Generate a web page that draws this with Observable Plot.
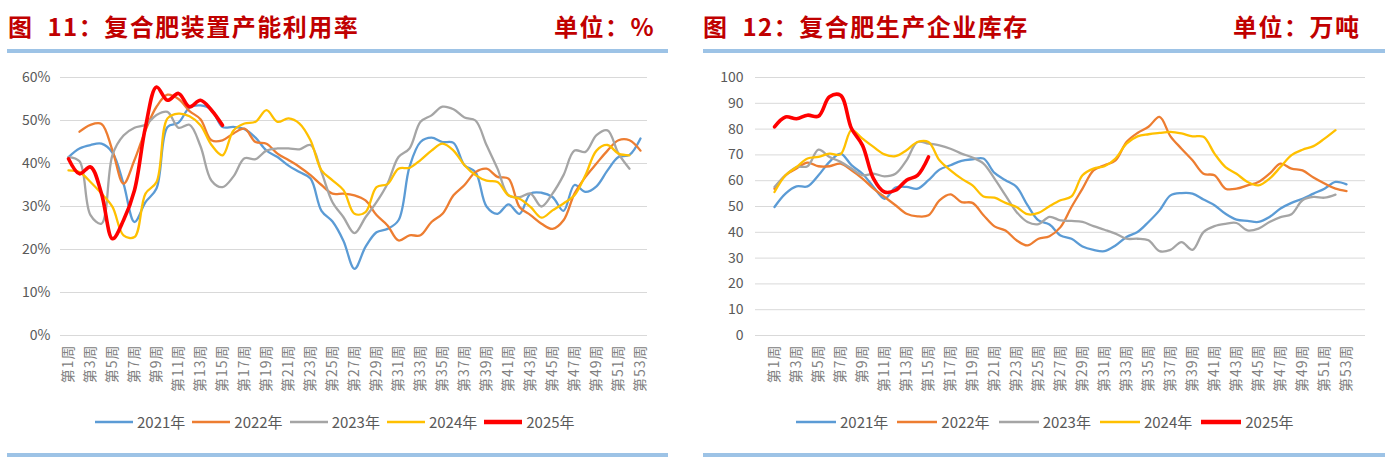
<!DOCTYPE html>
<html><head><meta charset="utf-8">
<script src="https://cdn.jsdelivr.net/npm/d3@7"></script>
<script src="https://cdn.jsdelivr.net/npm/@observablehq/plot@0.6"></script>
<style>
body{margin:0;width:1393px;height:465px;background:#fff;font-family:"Noto Sans CJK SC",sans-serif;overflow:hidden;position:relative}
.title{position:absolute;top:8px;font-size:24px;font-weight:bold;color:#C00000;white-space:nowrap;letter-spacing:1.5px}
.bar{position:absolute;height:4px;background:#9DC3E6}
.chart{position:absolute;top:60px}
.legend{position:absolute;top:411px;display:flex;align-items:center;font-size:15px;color:#595959;white-space:nowrap}
.legend span.item{display:flex;align-items:center}
.legend svg{margin-right:4px}
</style></head>
<body>
<div class="title" style="left:8px">图&nbsp;&nbsp;11：复合肥装置产能利用率</div>
<div class="title" style="left:554px">单位：%</div>
<div class="bar" style="left:7px;width:661px;top:49px"></div>
<div class="title" style="left:703px">图&nbsp;&nbsp;12：复合肥生产企业库存</div>
<div class="title" style="left:1233px">单位：万吨</div>
<div class="bar" style="left:703px;width:682px;top:49px"></div>
<div id="c1" class="chart" style="left:0px"></div>
<div id="c2" class="chart" style="left:700px"></div>
<div id="lg1" class="legend" style="left:95px"></div>
<div id="lg2" class="legend" style="left:796px"></div>
<div class="bar" style="left:7px;width:661px;top:453px"></div>
<div class="bar" style="left:703px;width:682px;top:453px"></div>
<script>
const weeks = ["第1周","第2周","第3周","第4周","第5周","第6周","第7周","第8周","第9周","第10周","第11周","第12周","第13周","第14周","第15周","第16周","第17周","第18周","第19周","第20周","第21周","第22周","第23周","第24周","第25周","第26周","第27周","第28周","第29周","第30周","第31周","第32周","第33周","第34周","第35周","第36周","第37周","第38周","第39周","第40周","第41周","第42周","第43周","第44周","第45周","第46周","第47周","第48周","第49周","第50周","第51周","第52周","第53周"];
const weekTicks = ["第1周","第3周","第5周","第7周","第9周","第11周","第13周","第15周","第17周","第19周","第21周","第23周","第25周","第27周","第29周","第31周","第33周","第35周","第37周","第39周","第41周","第43周","第45周","第47周","第49周","第51周","第53周"];
const years = ["2021年","2022年","2023年","2024年","2025年"];
const colors = ["#5B9BD5","#ED7D31","#A5A5A5","#FFC000","#FF0000"];

// 图11 复合肥装置产能利用率 (%)
const util2021 = [41.5,43.5,44.3,44.6,42.5,35.3,26.4,31,34.2,48.5,49.5,53,53.5,52.5,48.5,48.5,48,46,43,41.5,39.5,38,36.5,29,26.5,22,15.5,20.6,24,24.8,26.8,39.2,45,46,45,44.8,39.6,38,30,28.3,30.5,28.3,33,33.2,32.2,29,35,33.4,34.7,38.4,41.5,42,45.8];
const util2022 = [null,47.4,49,49.2,43,35.3,40.8,47.7,53.2,56,55,52.2,50.3,45.4,45.4,47,48.1,45,44.6,42.3,40.8,39.2,37.3,35,33,33,32.6,31.4,28,25.6,22.1,23.3,23.3,26.4,28.3,32.6,35,38,38.8,36.9,36.5,29.9,28,26,24.8,26.8,33,36.9,40,43,45.4,45.4,43];
const util2023 = [41.5,40.5,28,26,42,46.5,48.3,49,51.3,52,48.3,49,44,36,34.5,37,41.2,41,43,43.5,43.5,43.3,44.3,38,31,27.5,23.8,27.5,31,35.3,41.5,43.5,49.7,51.2,53.2,52.6,50.7,50,44.3,38.8,32.6,32.2,33,30,33,37.3,43,42.7,46.6,47.7,42.3,38.8,null];
const util2024 = [38.4,38,35.7,33,29.9,23.3,22.9,33,35.7,50.5,51.6,51,48.9,44.3,41.9,47.7,49.3,49.7,52.4,49.7,50.5,49.3,45.4,38.4,36.1,33.8,28.3,28.7,34.5,35.2,38.8,39,40.8,43,44.6,43,39.6,37.3,36,35.7,32.6,31.8,29.9,27.4,29.1,30.7,32.6,37.3,43,44.3,42.3,41.9,null];
const util2025 = [41.1,37.6,39.2,33,22.5,26.8,33.8,48.5,57.8,54.7,56.3,53.2,54.7,52.4,48.9];
const utilTicks = [0,10,20,30,40,50,60];

// 图12 复合肥生产企业库存 (万吨)
const inv2021 = [49.8,55,57.8,57.8,62.1,67.3,70.5,66,62.7,57.6,53,57.3,57.6,56.9,60.2,64.3,66,67.7,68.3,68.6,63,60.2,57.6,50.5,44.6,43,38.8,37.5,34.5,33.2,32.7,34.9,38.2,40.1,44,48.5,54.3,55.2,55,52.7,50.5,47.2,44.9,44.4,44,45.9,49.2,51.4,53,55,56.9,59.5,58.6];
const inv2022 = [56.9,62.1,64.7,67,65.6,65.6,66.6,64,60.8,56.9,53.7,50.5,47.2,46.2,46.6,52.4,54.7,51.7,51.4,46.6,42.3,40.7,36.9,34.9,37.5,38.5,42,49.8,56.9,64,66,67.9,75,78.5,80.9,84.7,77.2,72.4,67.9,62.7,62.1,56.9,56.9,58.2,59.5,62.7,66.6,64.7,64,61.2,58.9,56.9,56];
const inv2023 = [57.6,62.1,65.3,65.6,72,69.2,67.3,64.7,62.1,62.7,61.7,62.7,67.9,75,74.4,73.7,72.4,70.5,69,66.6,60.8,54.3,47.9,44,43.2,46,44.6,44.4,44,42.4,41,39.5,37.5,37.5,36.9,32.7,33.2,36.2,33.2,40.1,42.4,43.3,43.6,40.7,41.4,44,45.9,47,52.4,53.7,53.4,54.6,null];
const inv2024 = [55.6,62.1,65.3,68.6,69.2,70.5,70.2,79.6,76.3,73.1,70.2,69.5,71.8,75,75,67.9,64,60.8,58.2,53.9,53.4,51.4,49.8,47,47.5,50.1,52.4,53.9,62.1,64.7,65.6,68.6,74.4,77.2,78,78.5,78.9,78.3,77.2,77,70.5,65.3,62.7,59.5,58.2,60.8,65.3,69.9,72,73.4,76.3,79.6,null];
const inv2025 = [80.9,84.7,84,85.4,85,92.5,93.1,80.2,73.7,60.8,55.6,56.3,60.2,62.1,69.2];
const invTicks = [0,10,20,30,40,50,60,70,80,90,100];

function rows(arr){ return arr.map((v,i)=>({week:weeks[i], value:v})).filter(d=>d.value!=null); }

function makeChart(series, yTicks, yMax, fmt, opts){
  const marks = [
    Plot.gridY(yTicks, {stroke:"#d9d9d9", strokeOpacity:1, strokeWidth:1}),
    Plot.axisY(yTicks, {tickSize:0, tickPadding:opts.tickPad, tickFormat:fmt, fill:"#595959", fontSize:14, label:null}),
    Plot.axisX(weekTicks, {tickSize:0, tickPadding:9, tickRotate:-90, fill:"#808080", fontSize:14, label:null})
  ];
  series.forEach((s,i)=>{
    marks.push(Plot.line(rows(s), {x:"week", y:"value", stroke:colors[i], strokeWidth: i===4?3.6:2.3, curve:"catmull-rom"}));
  });
  const svg = Plot.plot({
    width: opts.width, height: 340,
    marginLeft: opts.ml, marginRight: opts.mr, marginTop: 17, marginBottom: 65,
    x: {type:"point", domain: weeks, padding:0.5},
    y: {domain:[0,yMax]},
    style: {fontFamily:'"Noto Sans CJK SC", sans-serif', fontSize:"13px", background:"transparent"},
    marks
  });
  d3.select(svg).selectAll('g[aria-label="x-axis tick label"] text').style("letter-spacing","1px");
  return svg;
}

document.getElementById("c1").append(makeChart([util2021,util2022,util2023,util2024,util2025], utilTicks, 60, d=>d+"%", {width:690, ml:60, mr:43, tickPad:10}));
document.getElementById("c2").append(makeChart([inv2021,inv2022,inv2023,inv2024,inv2025], invTicks, 100, d=>String(d), {width:693, ml:55, mr:28, tickPad:12}));

function legend(id, gap, sw){
  const el = document.getElementById(id);
  years.forEach((y,i)=>{
    const it = document.createElement("span"); it.className="item";
    it.style.marginRight = gap+"px";
    it.innerHTML = `<svg width="${sw}" height="6"><line x1="0" x2="${sw}" y1="3" y2="3" stroke="${colors[i]}" stroke-width="${i===4?4.5:2.5}"/></svg>${y}`;
    el.append(it);
  });
}
legend("lg1", 7, 38); legend("lg2", 9, 40);
</script>
</body></html>
